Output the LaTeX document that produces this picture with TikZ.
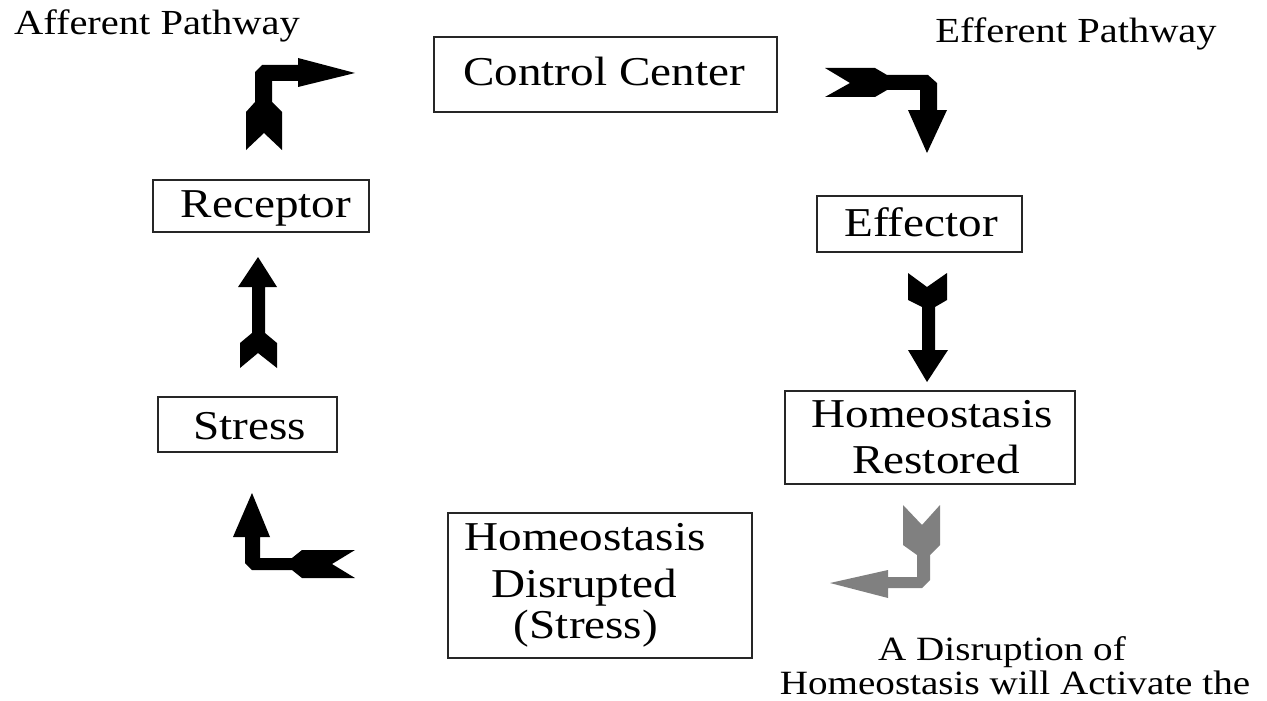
\documentclass[tikz,border=0pt]{standalone}
\usepackage{fontspec}
\setmainfont{Liberation Serif}[FakeStretch=1.15]
\begin{document}
\begin{tikzpicture}[x=1pt,y=-1pt,
  box/.style={draw=black!85,line width=1.6pt,inner sep=0pt,fill=white},
  big/.style={inner sep=0pt,anchor=base,font=\fontsize{41}{45}\selectfont},
  small/.style={inner sep=0pt,anchor=base,font=\fontsize{35.2}{38}\selectfont},
  bottom/.style={inner sep=0pt,anchor=base,font=\fontsize{34}{38}\selectfont},
  blockarrow/.style={fill=black,draw=none},
  grayarrow/.style={fill=black!50,draw=none}]
\useasboundingbox (0,0) rectangle (1267,701);
\fill[white] (0,0) rectangle (1267,701);

% boxes
\node[box,minimum width=343pt,minimum height=75pt] (cc) at (605.5,74.5) {};
\node[box,minimum width=216pt,minimum height=52pt] (rec) at (261,206) {};
\node[box,minimum width=205pt,minimum height=56pt] (eff) at (919.5,224) {};
\node[box,minimum width=179pt,minimum height=55pt] (str) at (247.5,424.5) {};
\node[box,minimum width=290pt,minimum height=93pt] (hr) at (930,437.5) {};
\node[box,minimum width=304pt,minimum height=145pt] (hd) at (600,585.5) {};

% box texts
\node[big] (cct) at (604,85) {Control Center};
\node[big] (rect) at (266,217) {Receptor};
\node[big] (efft) at (921,236) {Effector};
\node[big] (strt) at (250,439) {Stress};
\node[big] (hr1) at (932,427) {Homeostasis};
\node[big] (hr2) at (936,473) {Restored};
\node[big] (hd1) at (585,550) {Homeostasis};
\node[big] (hd2) at (584,597) {Disrupted};
\node[big] (hd3) at (586,638) {(Stress)};

% free labels
\node[small] (aff) at (157,35) {Afferent Pathway};
\node[small] (eff2) at (1076,43) {Efferent Pathway};
\node[bottom] (dis1) at (1002,660) {A Disruption of};
\node[bottom] (dis2) at (1015,694) {Homeostasis will Activate the};

% block arrows
% afferent (receptor -> control center)
\fill[blockarrow] (246,150) -- (264,133) -- (282,150) -- (282,112) -- (272,102) -- (272,81)
  -- (298,81) -- (298,87) -- (355,73) -- (298,58) -- (298,65) -- (262,65) -- (255,72)
  -- (255,102) -- (246,112) -- cycle;
% efferent (control center -> effector)
\fill[blockarrow] (825,68) -- (875,68) -- (887,75) -- (928,75) -- (937,83) -- (937,110)
  -- (947,110) -- (927,153) -- (908,110) -- (920,110) -- (920,90) -- (887,90) -- (875,97)
  -- (825,97) -- (850,83) -- cycle;
% stress -> receptor
\fill[blockarrow] (258,257) -- (277,287) -- (265,287) -- (265,333) -- (277,343) -- (277,368)
  -- (258,353) -- (240,368) -- (240,343) -- (252,333) -- (252,287) -- (238,287) -- cycle;
% effector -> homeostasis restored
\fill[blockarrow] (908,273) -- (927,287) -- (947,273) -- (947,300) -- (935,307) -- (935,350)
  -- (948,350) -- (927,382) -- (908,350) -- (922,350) -- (922,307) -- (908,300) -- cycle;
% disrupted -> stress
\fill[blockarrow] (252,493) -- (270,537) -- (260,537) -- (260,558) -- (292,558) -- (302,550)
  -- (355,550) -- (332,564) -- (355,578) -- (302,578) -- (292,570) -- (252,570) -- (245,563)
  -- (245,537) -- (233,537) -- cycle;
% restored -> disrupted (gray)
\fill[grayarrow] (903,505) -- (922,525) -- (940,505) -- (940,545) -- (930,555) -- (930,580)
  -- (922,588) -- (888,588) -- (888,598) -- (830,583) -- (888,570) -- (888,577) -- (917,577)
  -- (917,555) -- (903,545) -- cycle;
\end{tikzpicture}
\end{document}
